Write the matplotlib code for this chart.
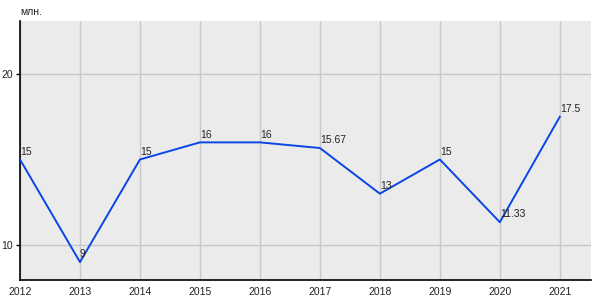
import matplotlib
matplotlib.use("Agg")
import matplotlib.pyplot as plt

plt.rcParams["font.family"] = ["Liberation Sans", "DejaVu Sans"]

years = [2012, 2013, 2014, 2015, 2016, 2017, 2018, 2019, 2020, 2021]
values = [15, 9, 15, 16, 16, 15.67, 13, 15, 11.33, 17.5]
labels = ["15", "9", "15", "16", "16", "15.67", "13", "15", "11.33", "17.5"]
y_ticks = [10, 20]

fig = plt.figure(figsize=(6, 3), dpi=100)
ax = fig.add_axes([20 / 600, 20 / 300, 571 / 600, 259 / 300])
ax.set_facecolor("#ebebeb")

ax.plot(years, values, color="#0a46e6", linewidth=1.4, zorder=3)
for x, y, t in zip(years, values, labels):
    ax.annotate(t, (x, y), xytext=(0, 2), textcoords="offset points",
                ha="left", va="bottom", fontsize=7.5, color="#222222", zorder=4)

ax.set_xlim(2012, 2021.52)
ax.set_ylim(7.95, 23.1)
ax.set_xticks(years)
ax.set_yticks(y_ticks)
ax.grid(True, color="#c8c8c8", linewidth=1)
ax.set_axisbelow(True)

for s in ["top", "right"]:
    ax.spines[s].set_visible(False)
for s in ["left", "bottom"]:
    ax.spines[s].set_color("black")
    ax.spines[s].set_linewidth(1.2)

ax.tick_params(axis="x", length=0, pad=5, labelsize=7.5, labelcolor="#222222")
ax.tick_params(axis="y", length=3, width=1, pad=2, labelsize=7.5, labelcolor="#222222")

fig.text(20 / 600, 1 - 12 / 300, "млн.", fontsize=7.5, color="#222222", va="center", ha="left")

fig.savefig("out.png", dpi=100)
